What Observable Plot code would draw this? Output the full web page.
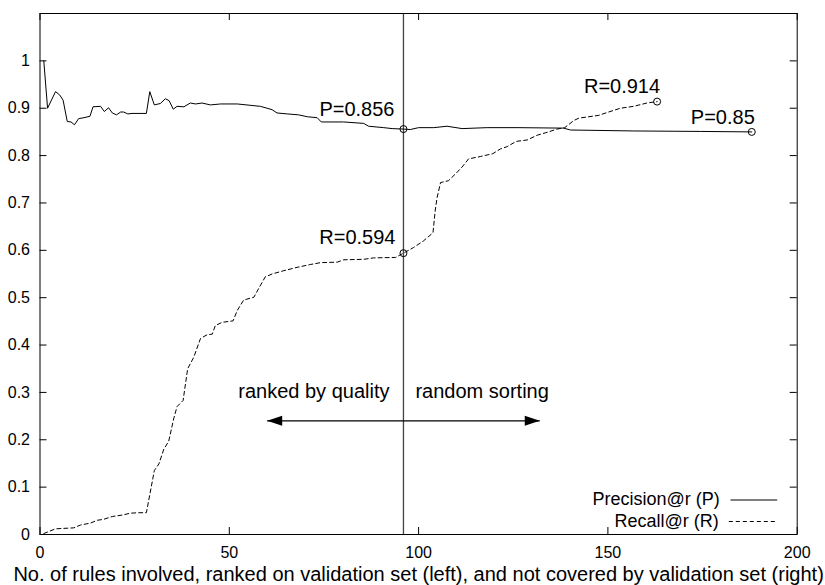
<!DOCTYPE html>
<html>
<head>
<meta charset="utf-8">
<script src="https://cdn.jsdelivr.net/npm/d3@7"></script>
<script src="https://cdn.jsdelivr.net/npm/@observablehq/plot@0.6"></script>
<style>
  html, body { margin: 0; padding: 0; background: #fff; }
  #chart svg { display: block; }
</style>
</head>
<body>
<div id="chart"></div>
<script>
// ---------- data ----------
const X_DOMAIN = [0, 200];
const Y_DOMAIN = [0, 1.1];
const X_TICKS = [0, 50, 100, 150, 200];
const Y_TICKS = [0, 0.1, 0.2, 0.3, 0.4, 0.5, 0.6, 0.7, 0.8, 0.9, 1];

// Precision@r (solid)
const P_X = [1, 2, 4.1, 5.2, 6.1, 7.2, 8.2, 9.1, 10.2, 11.6, 13.2, 14, 16, 17, 18.1, 19.1, 20.2, 21.3, 22.1, 23.2, 24.3, 28.1, 29, 30.2, 31.8, 33.1, 34.1, 35.2, 36.2, 38, 39.7, 41.1, 42.8, 45, 47.7, 52.1, 58.2, 61.3, 62.6, 65.3, 68.3, 70.6, 73.2, 74.3, 80.2, 85.5, 86.8, 90.8, 93, 96, 97.8, 100, 104, 107.5, 111.5, 118.1, 126, 138.3, 140.1, 156.8, 174.4, 188];
const P_Y = [1.0, 0.900, 0.935, 0.928, 0.917, 0.872, 0.871, 0.865, 0.878, 0.880, 0.883, 0.903, 0.904, 0.893, 0.901, 0.890, 0.886, 0.892, 0.892, 0.888, 0.889, 0.889, 0.935, 0.907, 0.910, 0.920, 0.916, 0.898, 0.904, 0.903, 0.911, 0.909, 0.911, 0.907, 0.909, 0.909, 0.904, 0.897, 0.890, 0.888, 0.886, 0.882, 0.880, 0.871, 0.871, 0.868, 0.862, 0.859, 0.857, 0.856, 0.855, 0.859, 0.859, 0.862, 0.857, 0.859, 0.859, 0.858, 0.854, 0.852, 0.851, 0.850];

// Recall@r (dashed)
const R_X = [1, 4.1, 8.9, 10.7, 13.3, 15.1, 16.8, 19.1, 21.7, 23.9, 26.1, 28.1, 30.2, 31.4, 32.7, 34.0, 35.3, 36.2, 37.8, 39.0, 40.6, 42.4, 44.2, 45.5, 46.3, 48.1, 51.0, 52.1, 53.8, 56.5, 57.8, 59.5, 61.3, 64.4, 67.9, 71.4, 74.1, 78.5, 80.2, 85.5, 88.1, 93.9, 96, 98.7, 101.3, 103.8, 104.4, 104.9, 105.8, 107.9, 109.7, 111.5, 113.2, 116.3, 119.6, 121.6, 123.4, 125.8, 128.7, 131.3, 133.9, 136.6, 138.6, 141, 142.3, 147.6, 149.8, 153.3, 156.8, 160.3, 163];
const R_Y = [0.002, 0.012, 0.014, 0.020, 0.024, 0.030, 0.032, 0.038, 0.041, 0.045, 0.046, 0.046, 0.135, 0.149, 0.180, 0.197, 0.244, 0.270, 0.283, 0.350, 0.374, 0.414, 0.422, 0.423, 0.441, 0.448, 0.451, 0.473, 0.495, 0.501, 0.520, 0.544, 0.550, 0.557, 0.564, 0.570, 0.574, 0.575, 0.580, 0.581, 0.584, 0.585, 0.594, 0.606, 0.620, 0.637, 0.685, 0.712, 0.743, 0.747, 0.761, 0.776, 0.793, 0.798, 0.804, 0.814, 0.819, 0.830, 0.833, 0.843, 0.849, 0.856, 0.859, 0.874, 0.879, 0.885, 0.891, 0.900, 0.904, 0.911, 0.914];

const SPLIT_X = 96;
const MARKER_X = [96, 188, 96, 163];
const MARKER_Y = [0.856, 0.85, 0.594, 0.914];
const MARKER_LABELS = ["P=0.856", "P=0.85", "R=0.594", "R=0.914"];
const ARROW_X = [60, 132];
const ARROW_Y = 0.24;
const REGION_LABELS = ["ranked by quality", "random sorting"];
const LEGEND_LABELS = ["Precision@r (P)", "Recall@r (R)"];
const TITLE = "No. of rules involved, ranked on validation set (left), and not covered by validation set (right)";

// ---------- build ----------
const W = 825, H = 585;
const mL = 39.5, mR = 28.3, mT = 13, mB = 51;
const FW = W - mL - mR, FH = H - mT - mB;
const TICK = 7;

const precision = P_X.map((x, i) => ({x, y: P_Y[i]}));
const recall = R_X.map((x, i) => ({x, y: R_Y[i]}));
const markers = MARKER_X.map((x, i) => ({x, y: MARKER_Y[i], label: MARKER_LABELS[i]}));
const corner = [{x: X_DOMAIN[1], y: Y_DOMAIN[0]}];

const headRight = {draw(ctx) { ctx.moveTo(0, 0); ctx.lineTo(-15, -5); ctx.lineTo(-15, 5); ctx.closePath(); }};
const headLeft = {draw(ctx) { ctx.moveTo(0, 0); ctx.lineTo(15, -5); ctx.lineTo(15, 5); ctx.closePath(); }};
const sample = (len) => ({draw(ctx) { ctx.moveTo(0, 0); ctx.lineTo(len, 0); }});

const textBase = {fill: "black", fontSize: 20, lineAnchor: "bottom"};
const legendText = {fill: "black", fontSize: 18, lineAnchor: "bottom"};

const chart = Plot.plot({
  width: W,
  height: H,
  marginLeft: mL,
  marginRight: mR,
  marginTop: mT,
  marginBottom: mB,
  style: {fontFamily: "'Liberation Sans', Arial, Helvetica, sans-serif", fontSize: "16px", color: "black", background: "white", overflow: "visible"},
  x: {domain: X_DOMAIN},
  y: {domain: Y_DOMAIN},
  marks: [
    // axis labels
    Plot.axisX({ticks: X_TICKS, tickSize: 0, tickPadding: 12, label: null, fontSize: 16}),
    Plot.axisY({ticks: Y_TICKS, tickSize: 0, tickPadding: 10, label: null, fontSize: 16, tickFormat: d => String(d)}),
    // inward ticks on all four sides
    Plot.tickX(X_TICKS, {x: d => d, insetTop: FH - TICK, stroke: "black"}),
    Plot.tickX(X_TICKS, {x: d => d, insetBottom: FH - TICK, stroke: "black"}),
    Plot.tickY(Y_TICKS, {y: d => d, insetRight: FW - TICK, stroke: "black"}),
    Plot.tickY(Y_TICKS, {y: d => d, insetLeft: FW - TICK, stroke: "black"}),
    // split line
    Plot.ruleX([SPLIT_X], {stroke: "#444", strokeWidth: 1.3}),
    // curves
    Plot.line(precision, {x: "x", y: "y", stroke: "black", strokeWidth: 1}),
    Plot.line(recall, {x: "x", y: "y", stroke: "black", strokeWidth: 1, strokeDasharray: "4,3"}),
    // markers
    Plot.dot(markers, {x: "x", y: "y", r: 3.5, stroke: "black", fill: "none", strokeWidth: 1}),
    Plot.text(markers.filter((d, i) => i === 0), {x: "x", y: "y", text: "label", textAnchor: "end", dx: -9, dy: -13, ...textBase}),
    Plot.text(markers.filter((d, i) => i === 1), {x: "x", y: "y", text: "label", textAnchor: "end", dx: 3, dy: -8, ...textBase}),
    Plot.text(markers.filter((d, i) => i === 2), {x: "x", y: "y", text: "label", textAnchor: "end", dx: -8, dy: -9, ...textBase}),
    Plot.text(markers.filter((d, i) => i === 3), {x: "x", y: "y", text: "label", textAnchor: "end", dx: 3, dy: -9, ...textBase}),
    // arrows
    Plot.link([{x1: ARROW_X[0], x2: ARROW_X[1], y: ARROW_Y}], {x1: "x1", x2: "x2", y1: "y", y2: "y", stroke: "black", strokeWidth: 1.3}),
    Plot.dot([{x: ARROW_X[1], y: ARROW_Y}], {x: "x", y: "y", symbol: headRight, fill: "black", stroke: "none"}),
    Plot.dot([{x: ARROW_X[0], y: ARROW_Y}], {x: "x", y: "y", symbol: headLeft, fill: "black", stroke: "none"}),
    Plot.text([{x: SPLIT_X, y: ARROW_Y, t: REGION_LABELS[0]}], {x: "x", y: "y", text: "t", textAnchor: "end", dx: -14, dy: -23, ...textBase}),
    Plot.text([{x: SPLIT_X, y: ARROW_Y, t: REGION_LABELS[1]}], {x: "x", y: "y", text: "t", textAnchor: "start", dx: 12, dy: -23, ...textBase}),
    // legend
    Plot.text(corner, {x: "x", y: "y", text: () => LEGEND_LABELS[0], textAnchor: "end", dx: -77.4, dy: -29.5, ...legendText}),
    Plot.text(corner, {x: "x", y: "y", text: () => LEGEND_LABELS[1], textAnchor: "end", dx: -78.4, dy: -8, ...legendText}),
    Plot.dot(corner, {x: "x", y: "y", symbol: sample(46.7), fill: "none", stroke: "black", strokeWidth: 1, dx: -66.7, dy: -34.5}),
    Plot.dot(corner, {x: "x", y: "y", symbol: sample(48.4), fill: "none", stroke: "black", strokeWidth: 1, strokeDasharray: "4,3", dx: -68.4, dy: -13}),
    // title
    Plot.text([TITLE], {frameAnchor: "bottom", text: d => d, dy: 46, ...textBase}),
    Plot.frame({stroke: "black", strokeWidth: 1})
  ]
});
document.getElementById("chart").appendChild(chart);
</script>
</body>
</html>
